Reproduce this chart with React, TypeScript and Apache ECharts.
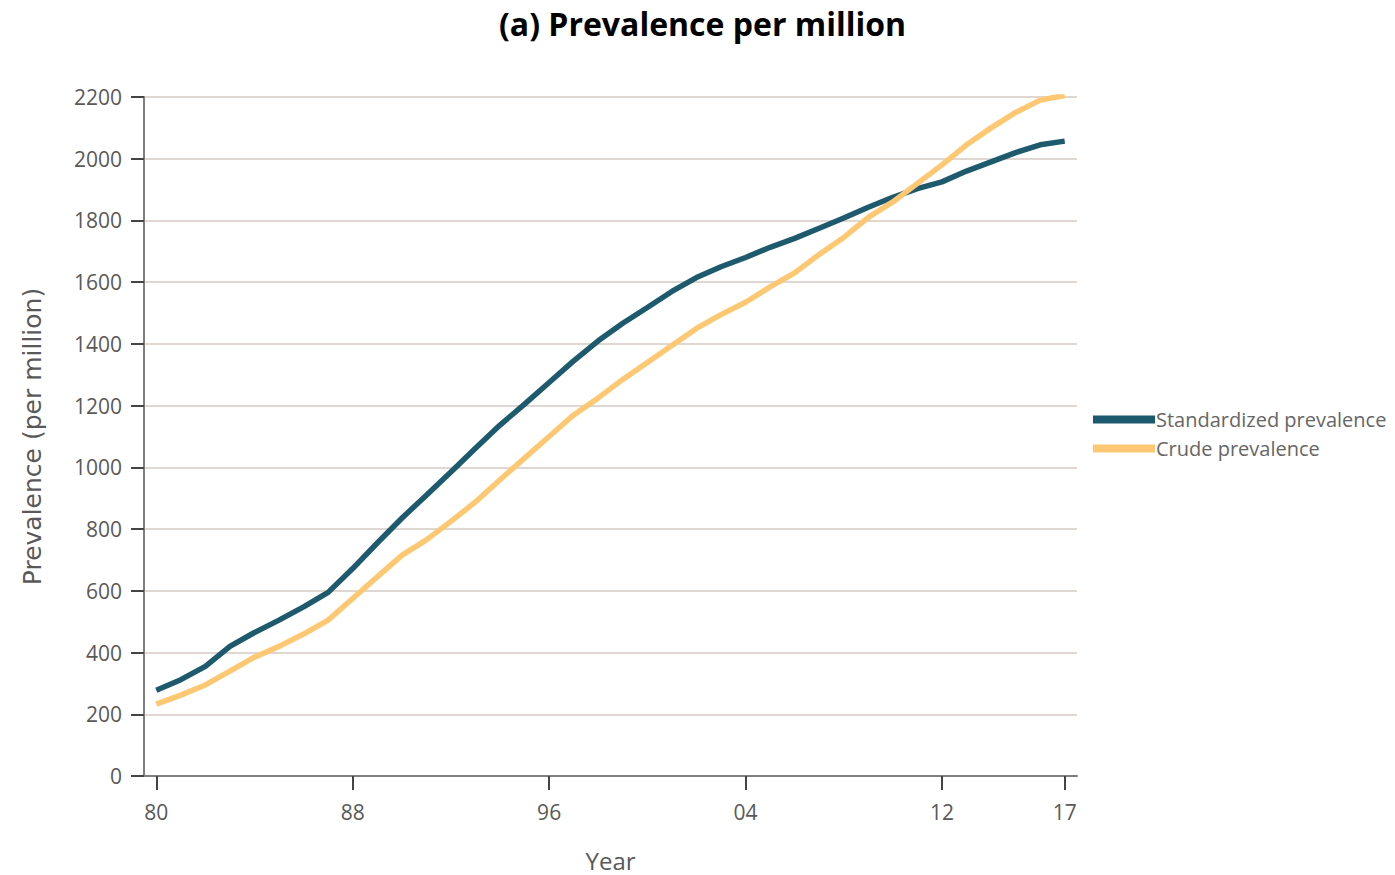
import React, { useEffect, useRef } from "react";
import * as echarts from "echarts";

// Years 1980–2017
const years: string[] = [
  "1980", "1981", "1982", "1983", "1984", "1985", "1986", "1987", "1988", "1989",
  "1990", "1991", "1992", "1993", "1994", "1995", "1996", "1997", "1998", "1999",
  "2000", "2001", "2002", "2003", "2004", "2005", "2006", "2007", "2008", "2009",
  "2010", "2011", "2012", "2013", "2014", "2015", "2016", "2017",
];

// Age-standardized prevalence per million
const standardized: number[] = [
  278, 312, 355, 420, 465, 505, 548, 595, 672, 755,
  835, 910, 985, 1062, 1137, 1205, 1275, 1345, 1410, 1467,
  1518, 1570, 1615, 1650, 1680, 1713, 1742, 1775, 1808, 1843,
  1875, 1903, 1925, 1960, 1990, 2020, 2045, 2057,
];

// Crude prevalence per million
const crude: number[] = [
  233, 262, 295, 340, 385, 420, 460, 505, 575, 645,
  715, 765, 825, 888, 960, 1030, 1100, 1170, 1225, 1285,
  1340, 1395, 1450, 1495, 1535, 1585, 1630, 1690, 1745, 1810,
  1860, 1920, 1980, 2045, 2100, 2150, 2190, 2205,
];

// Indices of the years that carry a tick label
const labelledIdx: number[] = [0, 8, 16, 24, 32, 37];

const FONT = "'Open Sans', sans-serif";
const AXIS_GREY = "#7f7f7f";
const TEXT_GREY = "#595959";

export default function App() {
  const ref = useRef<HTMLDivElement>(null);

  useEffect(() => {
    if (!ref.current) return;
    const chart = echarts.init(ref.current, undefined, { renderer: "svg" });
    const showIdx = (i: number) => labelledIdx.includes(i);

    chart.setOption({
      animation: false,
      backgroundColor: "#ffffff",
      title: {
        text: "(a) Prevalence per million",
        left: 494,
        top: 2,
        textStyle: {
          fontFamily: FONT,
          fontWeight: "bold",
          fontSize: 32,
          color: "#000000",
        },
      },
      legend: {
        orient: "vertical",
        left: 1088,
        top: 404,
        itemWidth: 62,
        itemHeight: 8,
        itemGap: 8,
        icon: "rect",
        textStyle: {
          fontFamily: FONT,
          fontSize: 20,
          lineHeight: 21,
          color: "#666666",
          padding: [0, 0, 0, -4],
        },
        data: ["Standardized prevalence", "Crude prevalence"],
      },
      grid: {
        left: 144,
        right: 318,
        top: 97,
        bottom: 99,
        containLabel: false,
        outerBoundsMode: "none",
      },
      xAxis: {
        type: "category",
        data: years,
        boundaryGap: true,
        name: "Year",
        nameLocation: "middle",
        nameGap: 72,
        nameTextStyle: { fontFamily: FONT, fontSize: 24, color: TEXT_GREY },
        axisLine: { show: true, lineStyle: { color: AXIS_GREY, width: 2 } },
        axisTick: {
          show: true,
          alignWithLabel: true,
          interval: (i: number) => showIdx(i),
          length: 14,
          lineStyle: { color: "#444444", width: 2 },
        },
        axisLabel: {
          interval: (i: number) => showIdx(i),
          formatter: (v: string) => v.slice(2),
          margin: 25,
          fontFamily: FONT,
          fontSize: 21,
          color: TEXT_GREY,
        },
        splitLine: { show: false },
      },
      yAxis: {
        type: "value",
        min: 0,
        max: 2200,
        interval: 200,
        name: "Prevalence (per million)",
        nameLocation: "middle",
        nameGap: 99,
        nameRotate: 90,
        nameTextStyle: { fontFamily: "'DejaVu Sans', sans-serif", fontSize: 25, color: TEXT_GREY },
        axisLine: { show: true, lineStyle: { color: AXIS_GREY, width: 2 } },
        axisTick: {
          show: true,
          length: 13,
          lineStyle: { color: "#444444", width: 2 },
        },
        axisLabel: {
          margin: 22,
          fontFamily: FONT,
          fontSize: 21,
          color: TEXT_GREY,
          formatter: (v: number) => String(v),
        },
        splitLine: { show: true, lineStyle: { color: "#d6c9c3", width: 1.5 } },
      },
      series: [
        {
          name: "Standardized prevalence",
          type: "line",
          data: standardized,
          showSymbol: false,
          symbol: "none",
          lineStyle: { color: "#1e5a6d", width: 5.5 },
          itemStyle: { color: "#1e5a6d" },
        },
        {
          name: "Crude prevalence",
          type: "line",
          data: crude,
          showSymbol: false,
          symbol: "none",
          lineStyle: { color: "#fec873", width: 5.5 },
          itemStyle: { color: "#fec873" },
        },
      ],
    });

    return () => chart.dispose();
  }, []);

  return (
    <div
      ref={ref}
      style={{ position: "fixed", left: 0, top: 0, width: 1395, height: 875 }}
    />
  );
}
